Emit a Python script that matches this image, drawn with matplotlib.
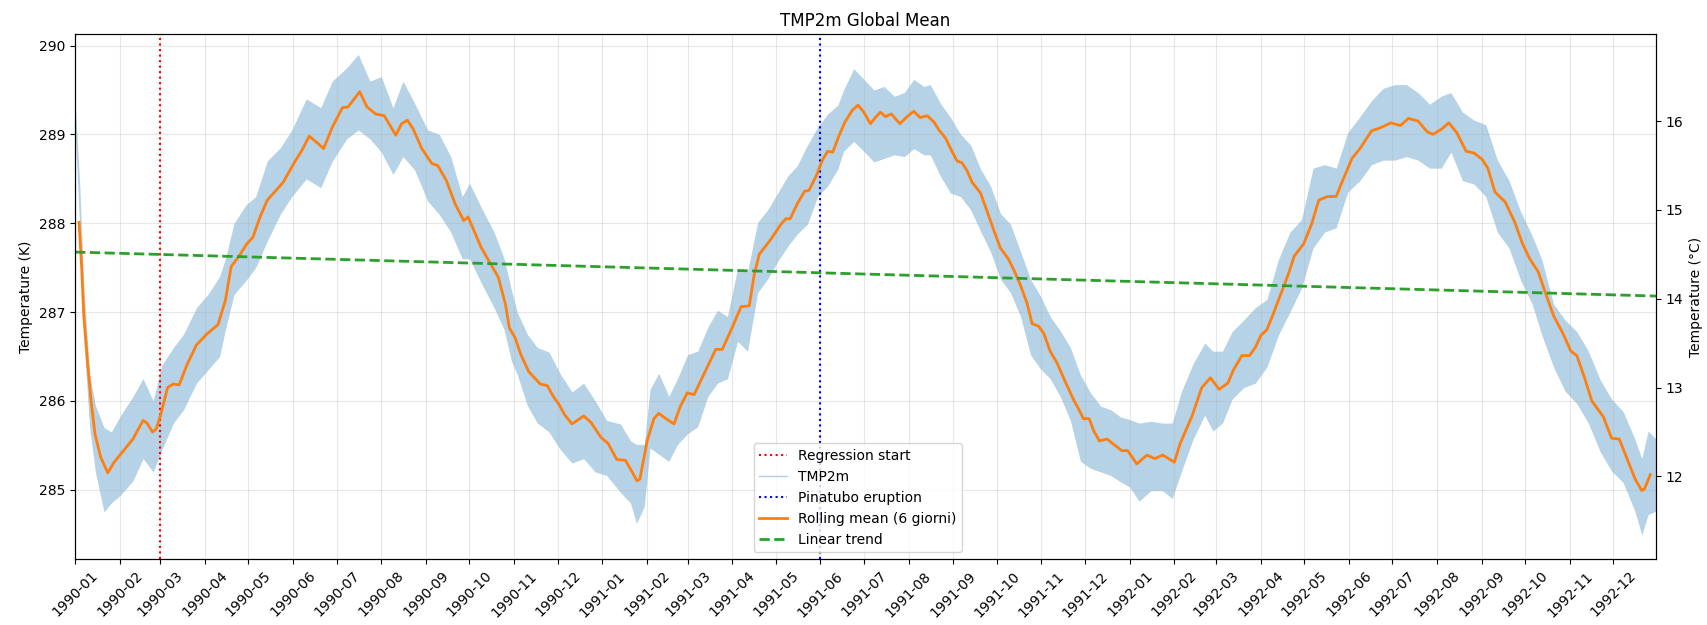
import pandas as pd
import matplotlib
matplotlib.use("Agg")
import matplotlib.pyplot as plt
import matplotlib.dates as mdates
from matplotlib.lines import Line2D

START = pd.Timestamp("1990-01-01")

# TMP2m (6-hourly) shown as its min/max envelope; days since 1990-01-01
band_day = [0, 3, 6, 10, 14, 20, 25, 32, 40, 47, 54, 60, 68, 75, 84, 92, 100, 104, 110, 118,
            125, 133, 142, 150, 160, 170, 178, 188, 196, 204, 212, 220, 227, 235, 244, 252, 260,
            268, 273, 282, 290, 297, 302, 306, 313, 320, 328, 336, 344, 352, 360, 368, 377.5,
            384.5, 388.6, 394, 398, 404, 411, 417, 424, 431, 438, 444.7, 451.6, 458.6, 465.5,
            472.5, 479.4, 486.4, 493.3, 500, 507, 514, 521, 528, 532, 539, 546, 553, 560, 567,
            574, 580.6, 587.5, 592, 599, 606, 613, 620, 626.8, 633.7, 640.6, 647.5, 654.5,
            661.4, 668.3, 675, 682, 689, 696, 703, 710, 717, 723.6, 730, 736.7, 744.7, 752.8,
            759.5, 766, 774, 782, 787.6, 794.3, 801, 809, 817, 825, 833, 841, 849, 857, 865,
            873, 881, 889.5, 897.5, 905.6, 913.6, 921.6, 929.7, 937.7, 945.7, 952.5, 960.5,
            968.5, 976.6, 984.6, 992.7, 1000.7, 1008.7, 1015.4, 1023.5, 1031.5, 1039.6, 1047.6,
            1055.7, 1063.7, 1071.7, 1079.8, 1084.6, 1089, 1094.5]
band_hi = [289.35, 288.5, 287.3, 286.3, 285.95, 285.7, 285.65, 285.85, 286.05, 286.25, 286.0,
           286.4, 286.6, 286.75, 287.05, 287.2, 287.4, 287.6, 288.0, 288.2, 288.3, 288.7, 288.85,
           289.05, 289.4, 289.3, 289.6, 289.75, 289.9, 289.6, 289.65, 289.3, 289.6, 289.35,
           289.05, 289.0, 288.75, 288.3, 288.45, 288.15, 287.9, 287.6, 287.25, 287.0, 286.75,
           286.6, 286.55, 286.3, 286.1, 286.2, 286.0, 285.78, 285.74, 285.55, 285.51, 285.51,
           286.13, 286.31, 286.05, 286.25, 286.52, 286.56, 286.83, 287.02, 286.95, 287.49,
           287.45, 288.01, 288.15, 288.34, 288.53, 288.65, 288.88, 289.08, 289.23, 289.33,
           289.5, 289.74, 289.62, 289.5, 289.54, 289.43, 289.47, 289.62, 289.54, 289.56, 289.35,
           289.19, 289.0, 288.88, 288.61, 288.42, 288.11, 287.99, 287.68, 287.37, 287.18,
           286.95, 286.79, 286.6, 286.29, 286.09, 285.94, 285.9, 285.82, 285.79, 285.75, 285.77,
           285.75, 285.75, 286.11, 286.42, 286.65, 286.56, 286.56, 286.78, 286.91, 287.05,
           287.14, 287.59, 287.9, 288.04, 288.62, 288.66, 288.62, 289.02, 289.2, 289.38, 289.52,
           289.56, 289.56, 289.47, 289.34, 289.43, 289.47, 289.25, 289.16, 289.11, 288.71,
           288.48, 288.13, 287.86, 287.59, 287.09, 286.91, 286.78, 286.56, 286.24, 286.02,
           285.88, 285.57, 285.35, 285.66, 285.57]
band_lo = [289.05, 288.0, 286.7, 285.7, 285.2, 284.75, 284.85, 284.95, 285.1, 285.35, 285.2,
           285.45, 285.75, 285.9, 286.2, 286.35, 286.5, 286.8, 287.2, 287.35, 287.5, 287.8, 288.1,
           288.3, 288.5, 288.4, 288.7, 288.95, 289.05, 288.95, 288.8, 288.55, 288.75, 288.6,
           288.25, 288.1, 287.9, 287.6, 287.6, 287.3, 287.05, 286.8, 286.45, 286.3, 285.95,
           285.75, 285.65, 285.45, 285.3, 285.35, 285.2, 285.16, 284.97, 284.85, 284.62, 284.81,
           285.47, 285.4, 285.32, 285.51, 285.63, 285.71, 286.05, 286.2, 286.25, 286.67, 286.56,
           287.22, 287.37, 287.57, 287.74, 287.88, 287.99, 288.3, 288.42, 288.61, 288.81, 288.92,
           288.81, 288.69, 288.73, 288.77, 288.75, 288.84, 288.77, 288.77, 288.53, 288.34, 288.3,
           288.15, 287.91, 287.68, 287.37, 287.22, 286.95, 286.52, 286.36, 286.25, 286.05,
           285.78, 285.32, 285.24, 285.2, 285.16, 285.09, 285.03, 284.87, 284.99, 284.99, 284.9,
           285.21, 285.57, 285.84, 285.66, 285.75, 286.02, 286.15, 286.2, 286.38, 286.74, 287.0,
           287.27, 287.72, 287.9, 287.95, 288.35, 288.48, 288.66, 288.71, 288.71, 288.75, 288.71,
           288.62, 288.62, 288.8, 288.48, 288.44, 288.3, 287.9, 287.72, 287.36, 287.09, 286.74,
           286.38, 286.11, 285.97, 285.75, 285.43, 285.21, 285.08, 284.76, 284.49, 284.72,
           284.76]

# rolling mean (6 giorni)
roll_day = [2.7, 4.5, 6, 8.5, 11, 13.8, 17.8, 22.6, 27, 35, 40, 47, 49.7, 53.6, 56, 59, 64, 68,
            72, 77.5, 84, 91, 99, 101, 104, 108, 113, 119, 123, 128, 133, 144, 152, 157, 162,
            168, 172, 178, 185, 189, 197, 202, 208, 214, 218, 222, 226, 230, 234, 240, 247,
            251, 257, 263, 269, 272, 275, 281, 287, 293, 298, 300.6, 304.6, 308.6, 314, 322,
            327, 331, 335, 339, 344, 352, 357, 364, 369, 375, 381, 385.6, 389, 391, 396, 400.7,
            404, 409, 414.6, 419, 423.8, 428.5, 435, 443.5, 448, 455, 461, 466.7, 470, 473.6,
            481.7, 488.7, 492, 495, 500, 505, 508, 513, 517.6, 521, 524.5, 528.7, 533, 538,
            542, 546, 550.6, 554, 557.5, 561, 565, 571, 576, 580.6, 585, 590, 594.5, 598, 602.5,
            607, 610.6, 614, 617.5, 621, 626.8, 631, 636, 640.6, 646, 650, 654.5, 659, 662.5,
            667, 670.6, 675, 680, 684.5, 691, 695, 698, 702, 705, 709, 714.5, 719, 724.6, 728.7,
            735, 742, 747.4, 753, 761, 765, 773, 780, 786, 792, 798, 802, 807.7, 813, 817, 821,
            825, 829, 833, 840, 844, 850.6, 856, 861, 867, 873, 877, 884, 889.5, 897.5, 903,
            911, 915, 917.6, 923, 929.7, 936, 940, 946, 951, 956.5, 963, 968.5, 974, 978, 983,
            990, 996.7, 1002, 1007, 1013, 1018, 1023.5, 1030, 1035.5, 1039.6, 1045, 1050, 1058,
            1063.7, 1069, 1074.4, 1080, 1084.6, 1086.5, 1090.5]
roll_val = [288.01, 287.5, 286.95, 286.45, 286.0, 285.62, 285.36, 285.19, 285.31, 285.47,
            285.57, 285.78, 285.75, 285.65, 285.68, 285.83, 286.15, 286.19, 286.18, 286.41,
            286.63, 286.75, 286.86, 286.97, 287.13, 287.51, 287.62, 287.77, 287.84, 288.07,
            288.26, 288.46, 288.69, 288.82, 288.98, 288.9, 288.84, 289.08, 289.3, 289.31, 289.48,
            289.31, 289.23, 289.21, 289.1, 288.99, 289.12, 289.16, 289.06, 288.84, 288.67,
            288.65, 288.48, 288.22, 288.03, 288.07, 287.96, 287.73, 287.56, 287.39, 287.08,
            286.82, 286.71, 286.52, 286.33, 286.19, 286.17, 286.05, 285.96, 285.84, 285.74,
            285.83, 285.76, 285.59, 285.52, 285.34, 285.33, 285.2, 285.1, 285.12, 285.55, 285.8,
            285.86, 285.8, 285.74, 285.94, 286.09, 286.07, 286.29, 286.58, 286.58, 286.83,
            287.06, 287.07, 287.41, 287.65, 287.82, 287.99, 288.05, 288.05, 288.22, 288.36,
            288.37, 288.53, 288.72, 288.81, 288.8, 288.98, 289.14, 289.27, 289.33, 289.25,
            289.12, 289.19, 289.25, 289.2, 289.23, 289.12, 289.2, 289.26, 289.19, 289.21, 289.14,
            289.05, 288.96, 288.81, 288.7, 288.68, 288.59, 288.46, 288.34, 288.15, 287.92,
            287.72, 287.6, 287.47, 287.3, 287.1, 286.87, 286.84, 286.76, 286.56, 286.42, 286.25,
            286.02, 285.9, 285.8, 285.8, 285.67, 285.55, 285.57, 285.51, 285.44, 285.44, 285.29,
            285.39, 285.35, 285.39, 285.31, 285.52, 285.82, 286.15, 286.26, 286.13, 286.2,
            286.35, 286.51, 286.51, 286.6, 286.74, 286.8, 286.96, 287.13, 287.43, 287.63, 287.77,
            287.99, 288.26, 288.3, 288.3, 288.46, 288.73, 288.84, 289.04, 289.07, 289.13, 289.11,
            289.1, 289.18, 289.15, 289.03, 289.0, 289.06, 289.13, 289.02, 288.81, 288.79, 288.72,
            288.62, 288.35, 288.24, 288.01, 287.77, 287.6, 287.45, 287.21, 286.96, 286.76,
            286.56, 286.51, 286.26, 286.0, 285.82, 285.58, 285.57, 285.35, 285.12, 284.99,
            285.01, 285.17]

# linear trend end points
trend_day = [0, 1094.5]
trend_val = [287.675, 287.18]

regression_start = "1990-03-01"
pinatubo = "1991-06-01"


def to_dates(days):
    return START + pd.to_timedelta(days, unit="D")


band_dates = to_dates(band_day)
roll_dates = to_dates(roll_day)
trend_dates = to_dates(trend_day)

fig, ax = plt.subplots(figsize=(17.08, 6.25), dpi=100)
fig.subplots_adjust(left=0.044, right=0.9696, top=0.9456, bottom=0.1056)

ax.axvline(pd.Timestamp(regression_start), color="red", linestyle=":", linewidth=1.5)
ax.fill_between(band_dates, band_lo, band_hi, color="C0", alpha=0.33, linewidth=0)
ax.axvline(pd.Timestamp(pinatubo), color="blue", linestyle=":", linewidth=1.5)
ax.plot(roll_dates, roll_val, color="C1", linewidth=2)
ax.plot(trend_dates, trend_val, color="C2", linestyle="--", linewidth=2)

handles = [
    Line2D([], [], color="red", linestyle=":", linewidth=1.5),
    Line2D([], [], color="C0", alpha=0.35, linewidth=1),
    Line2D([], [], color="blue", linestyle=":", linewidth=1.5),
    Line2D([], [], color="C1", linewidth=2),
    Line2D([], [], color="C2", linestyle="--", linewidth=2),
]
labels = ["Regression start", "TMP2m", "Pinatubo eruption",
          "Rolling mean (6 giorni)", "Linear trend"]
ax.legend(handles, labels, loc="lower center", bbox_to_anchor=(0.495, 0))

ax.set_xlim(band_dates[0], band_dates[-1])
ax.set_ylim(284.22, 290.13)
ax.set_ylabel("Temperature (K)")
ax.set_title("TMP2m Global Mean")
ax.grid(True, alpha=0.3)
ax.xaxis.set_major_locator(mdates.MonthLocator())
ax.xaxis.set_major_formatter(mdates.DateFormatter("%Y-%m"))
plt.setp(ax.get_xticklabels(), rotation=45)

ax2 = ax.twinx()
lo, hi = ax.get_ylim()
ax2.set_ylim(lo - 273.15, hi - 273.15)
ax2.set_ylabel("Temperature (°C)")

fig.savefig("out.png")
